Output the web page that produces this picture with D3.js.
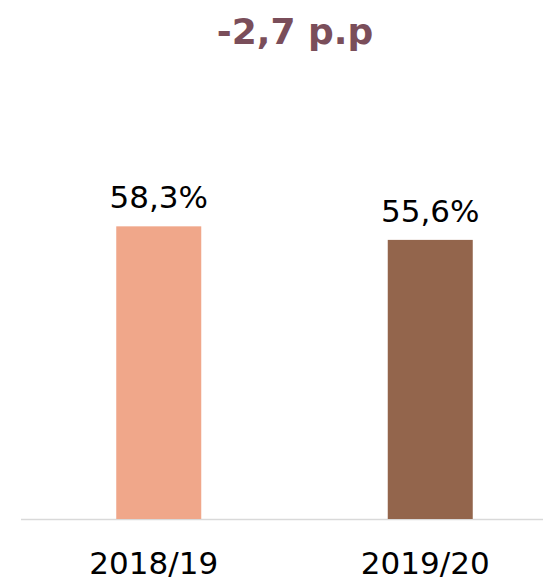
<!DOCTYPE html>
<html>
<head>
<meta charset="utf-8">
<script src="https://cdn.jsdelivr.net/npm/d3@7"></script>
<style>
  body { margin: 0; background: #fff; }
  text { font-family: "DejaVu Sans", sans-serif; }
</style>
</head>
<body>
<div id="chart"></div>
<script>
// values
const years = ["2018/19", "2019/20"];
const shares = [58.3, 55.6];
const valueLabels = ["58,3%", "55,6%"];
const colors = ["#f0a78a", "#93654c"];
const headline = "-2,7 p.p";

const width = 543, height = 584;

let svg = d3.select("#chart").append("svg")
    .attr("width", width)
    .attr("height", height);

let xScale = d3.scaleBand()
    .domain(years)
    .range([23, 566]);

let yScale = d3.scaleLinear()
    .domain([0, 100])
    .range([519, 17]);

let barW = 85;

// baseline
svg.append("line")
    .attr("x1", 21).attr("x2", width)
    .attr("y1", yScale(0) + 0.5).attr("y2", yScale(0) + 0.5)
    .attr("stroke", "#d9d9d9")
    .attr("stroke-width", 1.5);

let data = years.map((y, i) => ({year: y, value: shares[i], label: valueLabels[i], color: colors[i]}));

svg.selectAll("rect.bar")
    .data(data)
    .enter().append("rect")
    .attr("class", "bar")
    .attr("x", d => xScale(d.year) + xScale.bandwidth() / 2 - barW / 2)
    .attr("y", d => yScale(d.value))
    .attr("width", barW)
    .attr("height", d => yScale(0) - yScale(d.value))
    .attr("fill", d => d.color);

svg.selectAll("text.val")
    .data(data)
    .enter().append("text")
    .attr("class", "val")
    .attr("x", d => xScale(d.year) + xScale.bandwidth() / 2)
    .attr("y", d => yScale(d.value) - 18)
    .attr("text-anchor", "middle")
    .attr("font-size", 31)
    .attr("fill", "#000")
    .text(d => d.label);

// category labels
svg.selectAll("text.cat")
    .data(data)
    .enter().append("text")
    .attr("class", "cat")
    .attr("x", d => xScale(d.year) + xScale.bandwidth() / 2 - 5)
    .attr("y", 574)
    .attr("text-anchor", "middle")
    .attr("font-size", 31)
    .attr("fill", "#000")
    .text(d => d.year);

svg.append("text")
    .attr("x", 295)
    .attr("y", 44)
    .attr("text-anchor", "middle")
    .attr("font-size", 36)
    .attr("font-weight", "bold")
    .attr("fill", "#7a4e5a")
    .text(headline);
</script>
</body>
</html>
